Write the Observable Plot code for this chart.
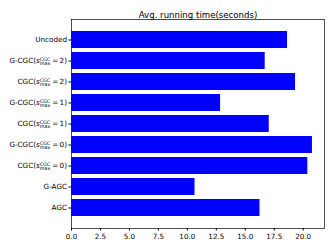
<!DOCTYPE html>
<html>
<head>
<meta charset="utf-8">
<script src="https://cdn.jsdelivr.net/npm/d3@7"></script>
<script src="https://cdn.jsdelivr.net/npm/@observablehq/plot@0.6"></script>
<style>
  html, body { margin: 0; padding: 0; background: #fff; }
  svg { font-family: "DejaVu Sans", sans-serif; }
</style>
</head>
<body>
<div id="chart"></div>
<script>
const title = "Avg. running time(seconds)";
const categories = [
  "Uncoded",
  "G-CGC(s_max^CGC = 2)",
  "CGC(s_max^CGC = 2)",
  "G-CGC(s_max^CGC = 1)",
  "CGC(s_max^CGC = 1)",
  "G-CGC(s_max^CGC = 0)",
  "CGC(s_max^CGC = 0)",
  "G-AGC",
  "AGC"
];
const times = [18.65, 16.72, 19.34, 12.87, 17.07, 20.8, 20.4, 10.66, 16.27];
const xTicks = [0, 2.5, 5, 7.5, 10, 12.5, 15, 17.5, 20];

const data = categories.map((c, i) => ({ name: c, time: times[i] }));
const xMax = d3.max(times) * 1.05;

const chart = Plot.plot({
  width: 332,
  height: 249,
  marginLeft: 71,
  marginRight: 8,
  marginTop: 19,
  marginBottom: 21,
  style: { fontFamily: "DejaVu Sans, sans-serif", fontSize: "7.2px", background: "#fff", color: "#000" },
  x: { domain: [0, xMax], ticks: xTicks, tickFormat: d3.format(".1f"), label: null },
  y: { domain: categories, paddingInner: 0.2, paddingOuter: 0.433, label: null },
  marks: [
    Plot.barX(data, { x: "time", y: "name", fill: "#0000ff" }),
    Plot.frame({ stroke: "#222", strokeWidth: 0.8 }),
    Plot.axisX({ ticks: xTicks, tickFormat: d3.format(".1f"), tickSize: 2.5, tickPadding: 2.5, label: null, fontSize: 7.2 }),
    Plot.axisY({ tickSize: 2.5, tickPadding: 2, label: null, fontSize: 7.2 }),
    Plot.text([title], { text: d => d, frameAnchor: "top", dy: -7.5, fontSize: 8.6, fill: "#000" })
  ]
});
document.getElementById("chart").appendChild(chart);

// typeset the math labels
const NS = "http://www.w3.org/2000/svg";
chart.querySelectorAll('g[aria-label="y-axis tick label"] text').forEach(t => {
  const m = t.textContent.match(/^(.*)\(s_max\^CGC = (\d)\)$/);
  if (!m) return;
  t.textContent = "";
  const mk = (txt, attrs) => {
    const s = document.createElementNS(NS, "tspan");
    s.textContent = txt;
    for (const k in attrs) s.setAttribute(k, attrs[k]);
    t.appendChild(s);
    return s;
  };
  mk(m[1] + "(", {});
  mk("s", { "font-style": "italic" });
  const sup = mk("CGC", { "font-size": 4.8, dy: -2.7 });
  const sub = mk("max", { "font-size": 4.8, dy: 4.6 });
  const rest = mk("\u2009=\u2009" + m[2] + ")", { dy: -1.9 });
  const supLen = sup.getComputedTextLength();
  const subLen = sub.getComputedTextLength();
  sub.setAttribute("dx", -supLen);
  rest.setAttribute("dx", Math.max(0, supLen - subLen) + 0.5);
});
</script>
</body>
</html>
